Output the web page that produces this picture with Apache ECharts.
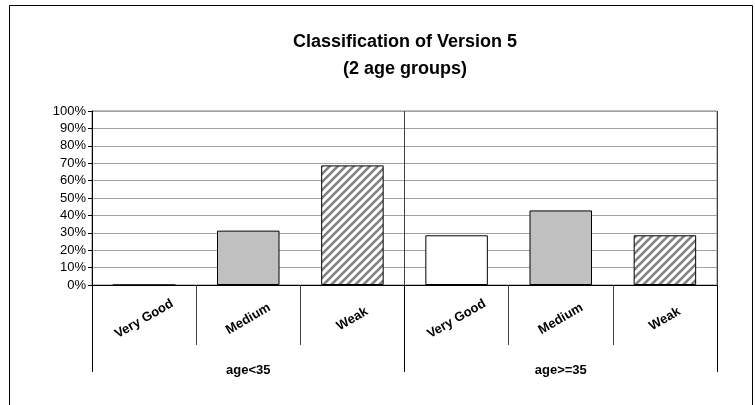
<!DOCTYPE html>
<html><head><meta charset="utf-8">
<script src="https://cdn.jsdelivr.net/npm/echarts@6/dist/echarts.min.js"></script>
<style>html,body{margin:0;padding:0;background:#fff}#c{width:755px;height:405px}</style>
</head><body><div id="c"></div>
<script>
const titleLines = ['Classification of Version 5', '(2 age groups)'];
const groups = ['age<35', 'age>=35'];
const levels = ['Very Good', 'Medium', 'Weak'];
const youngValues = [0, 31.25, 68.75];
const olderValues = [28.57, 42.86, 28.57];
const yTicks = [0, 10, 20, 30, 40, 50, 60, 70, 80, 90, 100];

// hatch pattern for "Weak"
const pc = document.createElement('canvas');
pc.width = 8; pc.height = 8;
const g = pc.getContext('2d');
g.fillStyle = '#ffffff'; g.fillRect(0, 0, 8, 8);
g.strokeStyle = '#808080'; g.lineWidth = 2.6;
for (let k = -1; k <= 1; k++) {
  g.beginPath(); g.moveTo(-2 + 8 * k, 10); g.lineTo(10 + 8 * k, -2); g.stroke();
}
const levelFill = [ '#ffffff', '#c0c0c0', {image: pc, repeat: 'repeat'} ];

const cats = [];
const data = [];
[youngValues, olderValues].forEach((vals, gi) => {
  vals.forEach((v, li) => {
    cats.push(levels[li]);
    data.push({ value: v, itemStyle: { color: levelFill[li], borderColor: '#000', borderWidth: 1 } });
  });
});

const font = 'Liberation Sans, Arial, sans-serif';
const chart = echarts.init(document.getElementById('c'));
chart.setOption({
  animation: false,
  title: {
    text: titleLines.join('\n'), left: 400, top: 24, textAlign: 'center',
    textStyle: { fontFamily: font, fontSize: 18, fontWeight: 'bold', color: '#000', lineHeight: 27 }
  },
  graphic: [{ type: 'rect', shape: { x: 9.5, y: 5.5, width: 743, height: 420 },
    style: { fill: null, stroke: '#000', lineWidth: 1 }, silent: true, z: -1 }],
  grid: { left: 92, right: 38, top: 111, bottom: 120, show: true, borderColor: '#808080', borderWidth: 1 },
  xAxis: [{
    type: 'category', data: cats, position: 'bottom',
    axisLine: { lineStyle: { color: '#000' } },
    axisTick: { show: true, interval: 0, length: 60, lineStyle: { color: '#404040' } },
    axisLabel: { interval: 0, rotate: 30, align: 'center', verticalAlign: 'middle', margin: 34,
      fontFamily: font, fontSize: 13, fontWeight: 'bold', color: '#000' },
    splitLine: { show: false }
  }, {
    type: 'category', data: groups, position: 'bottom',
    axisLine: { show: false },
    axisTick: { show: true, interval: 0, length: 87, lineStyle: { color: '#000' } },
    axisLabel: { interval: 0, margin: 79, fontFamily: font, fontSize: 13, fontWeight: 'bold', color: '#000' },
    splitLine: { show: true, interval: 0, lineStyle: { color: '#404040' } }
  }],
  yAxis: {
    type: 'value', min: yTicks[0], max: yTicks[yTicks.length - 1], interval: 10,
    axisLine: { show: true, lineStyle: { color: '#000' } },
    axisTick: { show: true, length: 4, lineStyle: { color: '#000' } },
    axisLabel: { formatter: '{value}%', fontFamily: font, fontSize: 13, color: '#000', margin: 6 },
    splitLine: { lineStyle: { color: '#a0a0a0' } }
  },
  series: [{ type: 'bar', xAxisIndex: 0, barWidth: '60%', data: data }]
});
</script></body></html>
